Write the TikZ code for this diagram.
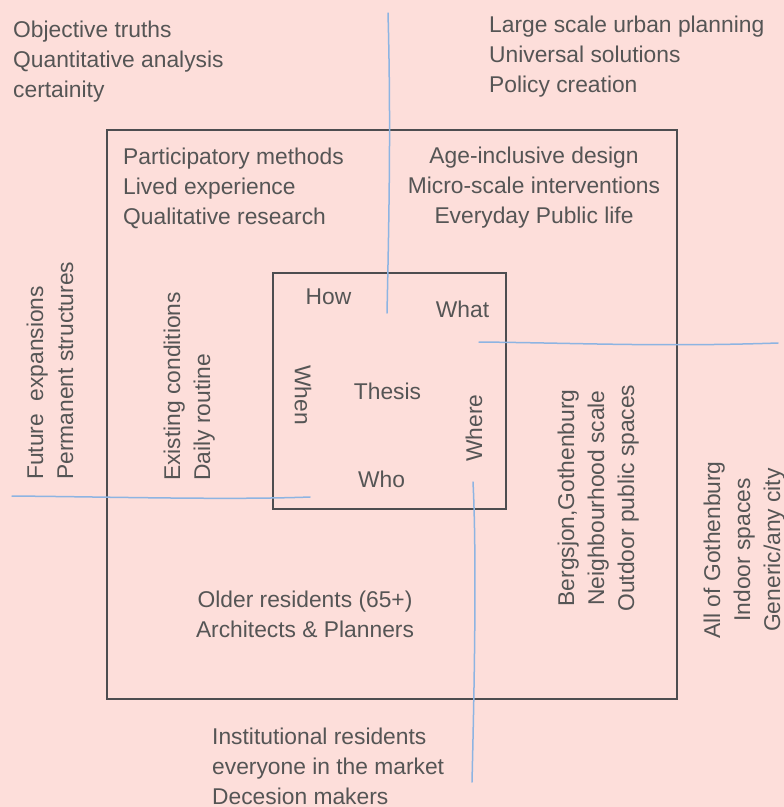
\documentclass[tikz,border=0pt]{standalone}
\usepackage{fontspec}
\setmainfont{Liberation Sans}
\usetikzlibrary{positioning}
\definecolor{bgpink}{RGB}{253,222,218}
\definecolor{inkgrey}{RGB}{85,85,85}
\definecolor{framegrey}{RGB}{77,77,80}
\definecolor{penblue}{RGB}{141,180,226}

\begin{document}
\begin{tikzpicture}[
    x=1pt, y=-1pt,
    txt/.style={inner sep=0pt, text=inkgrey, font=\fontsize{22.8}{30}\selectfont},
    leftblock/.style={txt, align=left, anchor=base west},
    midblock/.style={txt, align=center, anchor=base},
    frame/.style={draw=framegrey, line width=2.2pt},
    pen/.style={draw=penblue, line width=1.5pt, line cap=round}
]

% Background
\fill[bgpink] (0,0) rectangle (784,807);
\useasboundingbox (0,0) rectangle (784,807);

% Frames
\draw[frame] (107,130) rectangle (677,699);
\draw[frame] (273,273) rectangle (506,509);

% Hand drawn axes
\coordinate (n1) at (388,13);
\coordinate (n2) at (387,313);
\coordinate (e1) at (479,342);
\coordinate (e2) at (778,343);
\coordinate (w1) at (12,496);
\coordinate (w2) at (310,497);
\coordinate (s1) at (473,482);
\coordinate (s2) at (472,782);
\draw[pen] (n1) .. controls (391,120) and (389,220) .. (n2);
\draw[pen] (e1) .. controls (580,343) and (660,347) .. (e2);
\draw[pen] (w1) .. controls (120,497) and (230,500) .. (w2);
\draw[pen] (s1) .. controls (477,560) and (474,700) .. (s2);

% Centre (base anchor = last line)
\node[txt, anchor=base] (thesis) at (387.5,399) {Thesis};
\node[txt, anchor=base] (how) at (328.5,304) {How};
\node[txt, anchor=base] (what) at (462.5,317) {What};
\node[txt, anchor=base] (who) at (381.5,487) {Who};
\node[txt, rotate=-90] (when) at (303,395) {When};
\node[txt, rotate=90] (where) at (474,428) {Where};

% Inner ring
\node[leftblock] (method) at (123,224) {Participatory methods\\Lived experience\\Qualitative research};
\node[midblock] (focus) at (534,223) {Age-inclusive design\\Micro-scale interventions\\Everyday Public life};
\node[midblock] (users) at (305,637) {Older residents (65+)\\Architects \& Planners};
\node[leftblock, rotate=90] (time) at (210,481) {Existing conditions\\Daily routine};
\node[midblock, rotate=90] (place) at (634,498) {Bergsjon,Gothenburg\\Neighbourhood scale\\Outdoor public spaces};

% Outer ring
\node[leftblock] (notmethod) at (13,97) {Objective truths\\Quantitative analysis\\certainity};
\node[leftblock] (notfocus) at (489,92) {Large scale urban planning\\Universal solutions\\Policy creation};
\node[leftblock] (notusers) at (212,804) {Institutional residents\\everyone in the market\\Decesion makers};
\node[leftblock, rotate=90] (nottime) at (73,480) {Future\ \ expansions\\Permanent structures};
\node[midblock, rotate=90] (notplace) at (780,550) {All of Gothenburg\\Indoor spaces\\Generic/any city};

\end{tikzpicture}
\end{document}
